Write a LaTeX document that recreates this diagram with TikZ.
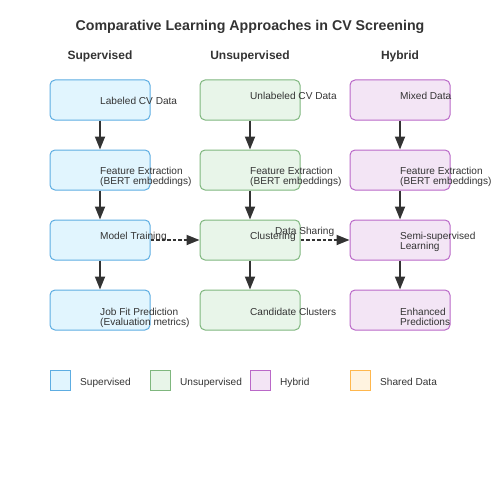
\documentclass[tikz,border=0pt]{standalone}
\usepackage{fontspec}
\setmainfont{Liberation Sans}
\usetikzlibrary{arrows.meta}
\definecolor{supfill}{HTML}{E1F5FE}
\definecolor{supline}{HTML}{5DADE2}
\definecolor{unsfill}{HTML}{E8F5E9}
\definecolor{unsline}{HTML}{7FB77E}
\definecolor{hybfill}{HTML}{F3E5F5}
\definecolor{hybline}{HTML}{BA68C8}
\definecolor{shrfill}{HTML}{FFF3E0}
\definecolor{shrline}{HTML}{FFB74D}
\definecolor{inkgray}{HTML}{333333}
\begin{document}
\begin{tikzpicture}[x=1pt, y=-1pt,
  stage/.style={draw, line width=1pt, rounded corners=5pt, minimum width=100pt, minimum height=40pt, inner sep=0pt},
  sup/.style={stage, draw=supline, fill=supfill},
  uns/.style={stage, draw=unsline, fill=unsfill},
  hyb/.style={stage, draw=hybline, fill=hybfill},
  legbox/.style={draw, line width=1pt, minimum size=20pt, inner sep=0pt},
  txt/.style={anchor=base west, inner sep=0pt, align=left, text=inkgray, font=\fontsize{10.1}{10}\selectfont},
  head/.style={anchor=base, inner sep=0pt, text=inkgray, font=\fontsize{12}{12}\selectfont\bfseries},
  flow/.style={draw=inkgray, line width=1.8pt, -{Triangle[length=13pt,width=10pt]}},
  share/.style={flow, dash pattern=on 3.5pt off 2pt}]
\useasboundingbox (0,0) rectangle (500,500);
\node[anchor=base, inner sep=0pt, text=inkgray, font=\fontsize{14.2}{14}\selectfont\bfseries] (title) at (250,30.5) {Comparative Learning Approaches in CV Screening};
\node[head] (hsup) at (100,60) {Supervised};
\node[head] (huns) at (250,60) {Unsupervised};
\node[head] (hhyb) at (400,60) {Hybrid};
% supervised column
\node[sup] (sup1) at (100,100) {};
\node[sup] (sup2) at (100,170) {};
\node[sup] (sup3) at (100,240) {};
\node[sup] (sup4) at (100,310) {};
\node[txt] (tsup1) at (100,104.5) {Labeled CV Data};
\node[txt] (tsup2) at (100,184.7) {Feature Extraction\\(BERT embeddings)};
\node[txt] (tsup3) at (100,239.5) {Model Training};
\node[txt] (tsup4) at (100,325) {Job Fit Prediction\\(Evaluation metrics)};
% unsupervised column
\node[uns] (uns1) at (250,100) {};
\node[uns] (uns2) at (250,170) {};
\node[uns] (uns3) at (250,240) {};
\node[uns] (uns4) at (250,310) {};
\node[txt] (tuns1) at (250,100) {Unlabeled CV Data};
\node[txt] (tuns2) at (250,184.7) {Feature Extraction\\(BERT embeddings)};
\node[txt] (tuns3) at (250,239.5) {Clustering};
\node[txt] (tuns4) at (250,315) {Candidate Clusters};
% hybrid column
\node[hyb] (hyb1) at (400,100) {};
\node[hyb] (hyb2) at (400,170) {};
\node[hyb] (hyb3) at (400,240) {};
\node[hyb] (hyb4) at (400,310) {};
\node[txt] (thyb1) at (400,100) {Mixed Data};
\node[txt] (thyb2) at (400,184.7) {Feature Extraction\\(BERT embeddings)};
\node[txt] (thyb3) at (400,249.5) {Semi-supervised\\Learning};
\node[txt] (thyb4) at (400,325) {Enhanced\\Predictions};
\foreach \col in {sup,uns,hyb}{
  \draw[flow] (\col1) -- (\col2);
  \draw[flow] (\col2) -- (\col3);
  \draw[flow] (\col3) -- (\col4);
}
\draw[share] (sup3) -- (uns3);
\draw[share] (uns3) -- (hyb3);
\node[txt] (tshare) at (275,234.5) {Data Sharing};
% legend
\node[legbox, draw=supline, fill=supfill] (leg1) at (60,380) {};
\node[legbox, draw=unsline, fill=unsfill] (leg2) at (160,380) {};
\node[legbox, draw=hybline, fill=hybfill] (leg3) at (260,380) {};
\node[legbox, draw=shrline, fill=shrfill] (leg4) at (360,380) {};
\node[txt] (tleg1) at (80,385) {Supervised};
\node[txt] (tleg2) at (180,385) {Unsupervised};
\node[txt] (tleg3) at (280,385) {Hybrid};
\node[txt] (tleg4) at (380,385) {Shared Data};
\end{tikzpicture}
\end{document}
